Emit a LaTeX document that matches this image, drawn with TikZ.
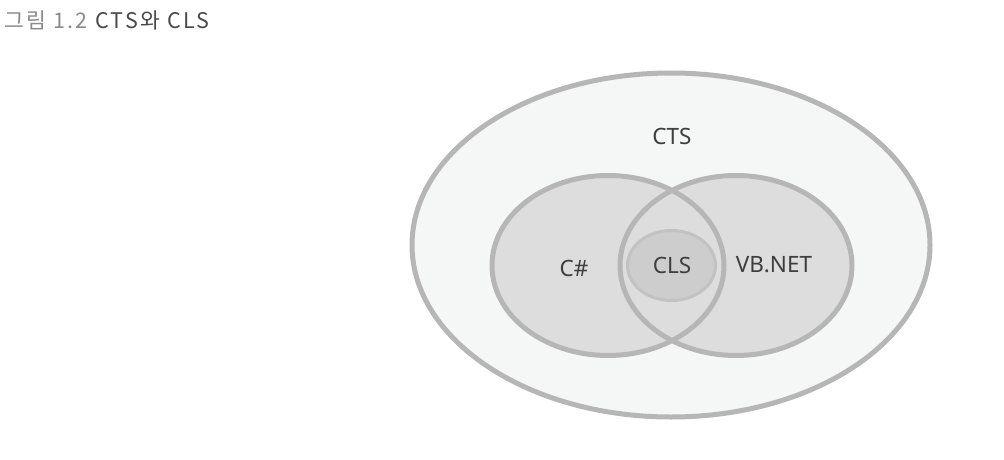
\documentclass[tikz,border=0pt]{standalone}
\usepackage{fontspec}
\setmainfont{Noto Sans}
\newfontfamily\krfont[LetterSpace=11]{Noto Sans CJK KR}
\usetikzlibrary{shapes.geometric}
\definecolor{outerfill}{HTML}{F5F6F6}
\definecolor{ringgray}{HTML}{B5B6B5}
\definecolor{setfill}{HTML}{DCDDDC}
\definecolor{clsfill}{HTML}{CDCDCD}
\definecolor{clsline}{HTML}{C2C2C2}
\definecolor{labeltext}{HTML}{3E3E3E}
\definecolor{captlight}{HTML}{8A8A8A}
\definecolor{captdark}{HTML}{4A4A4A}
\tikzset{
  blob/.style={ellipse, inner sep=0pt, outer sep=0pt},
  label text/.style={font=\fontsize{22.5}{25}\selectfont, text=labeltext, inner sep=0pt},
}
\begin{document}
\begin{tikzpicture}[x=1pt,y=-1pt]
\useasboundingbox (0,0) rectangle (1004,460);
\fill[white] (0,0) rectangle (1004,460);
% caption
\node[anchor=base west, inner sep=0pt, font=\krfont\fontsize{21.5}{24}\selectfont] (caption) at (4,29)
  {\textcolor{captlight}{그림 1.2} \textcolor{captdark}{CTS와 CLS}};
% outer CTS
\node[blob, fill=outerfill, draw=ringgray, line width=5pt, minimum width=518pt, minimum height=344pt] (cts) at (671,245) {};
% C# and VB.NET fills
\node[blob, fill=setfill, minimum width=232pt, minimum height=180pt] (cs) at (608,265.5) {};
\node[blob, fill=setfill, minimum width=232pt, minimum height=180pt] (vb) at (736,265.5) {};
% outlines on top of both fills
\draw[ringgray, line width=5pt] (cs.center) ellipse [x radius=116, y radius=90];
\draw[ringgray, line width=5pt] (vb.center) ellipse [x radius=116, y radius=90];
% CLS
\node[blob, fill=clsfill, draw=clsline, line width=3pt, minimum width=88pt, minimum height=70pt] (cls) at (671.5,265.5) {};
% labels
\node[label text] (ctslabel) at (672,136) {CTS};
\node[label text] (cslabel) at (574,268) {C\#};
\node[label text] (clslabel) at (672,265) {CLS};
\node[label text] (vblabel) at (774,265) {VB.NET};
\end{tikzpicture}
\end{document}
